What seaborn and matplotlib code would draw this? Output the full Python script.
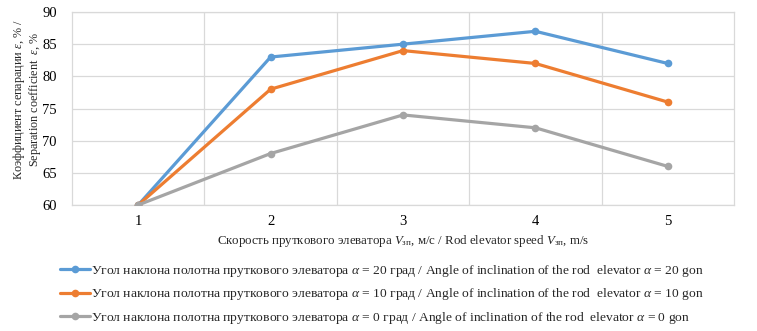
import matplotlib
matplotlib.use("Agg")
import matplotlib.pyplot as plt
import seaborn as sns
import pandas as pd
from matplotlib.lines import Line2D
from matplotlib.ticker import FixedLocator

speeds = [1, 2, 3, 4, 5]
alpha20 = [60, 83, 85, 87, 82]
alpha10 = [60, 78, 84, 82, 76]
alpha0 = [60, 68, 74, 72, 66]
labels = [
    "Угол наклона полотна пруткового элеватора $\\mathit{α}$ = 20 град / Angle of inclination of the rod  elevator $\\mathit{α}$ = 20 gon",
    "Угол наклона полотна пруткового элеватора $\\mathit{α}$ = 10 град / Angle of inclination of the rod  elevator $\\mathit{α}$ = 10 gon",
    "Угол наклона полотна пруткового элеватора $\\mathit{α}$ = 0 град / Angle of inclination of the rod  elevator $\\mathit{α}$ = 0 gon",
]
colors = ["#5B9BD5", "#ED7D31", "#A5A5A5"]

sns.set_theme(style="white")
plt.rcParams["font.family"] = ["Liberation Serif", "DejaVu Serif"]
plt.rcParams["mathtext.fontset"] = "custom"
plt.rcParams["mathtext.rm"] = "Liberation Serif"
plt.rcParams["mathtext.it"] = "Liberation Serif:italic"
plt.rcParams["mathtext.bf"] = "Liberation Serif:bold"

df = pd.DataFrame({
    "speed": speeds * 3,
    "value": alpha20 + alpha10 + alpha0,
    "series": [labels[0]] * 5 + [labels[1]] * 5 + [labels[2]] * 5,
})

fig = plt.figure(figsize=(7.57, 3.31), dpi=100)
ax = fig.add_axes([72 / 757, 1 - 205 / 331, (734 - 72) / 757, (205 - 12) / 331])

sns.lineplot(data=df, x="speed", y="value", hue="series", hue_order=labels,
             palette=colors, marker="o", markersize=5.5, markeredgewidth=0,
             linewidth=2.3, ax=ax, legend=False, zorder=3)

ax.set_xlim(0.5, 5.5)
ax.set_ylim(60, 90)
ax.set_yticks([60, 65, 70, 75, 80, 85, 90])
ax.set_xticks(speeds)
ax.xaxis.set_minor_locator(FixedLocator([1.5, 2.5, 3.5, 4.5]))
ax.grid(True, axis="y", color="#D9D9D9", linewidth=0.9)
ax.grid(True, axis="x", which="minor", color="#D9D9D9", linewidth=0.9)
ax.grid(False, axis="x", which="major")
for s in ax.spines.values():
    s.set_color("#D9D9D9")
    s.set_linewidth(0.9)
ax.tick_params(axis="both", which="both", length=0, labelsize=10.5, colors="#000000")
ax.tick_params(axis="x", pad=7)
ax.tick_params(axis="y", pad=11)

ax.set_xlabel("Скорость пруткового элеватора $\\mathit{V}_{\\mathrm{зп}}$, м/с / Rod elevator speed $\\mathit{V}_{\\mathrm{зп}}$, m/s",
              fontsize=9.3, labelpad=4)
ax.set_ylabel("Коэффициент сепарации $\\mathit{ε}$, % /\nSeparation coefficient  $\\mathit{ε}$, %",
              fontsize=8.7, linespacing=1.0)
ax.yaxis.set_label_coords(-0.044, 0.545)

handles = [Line2D([], [], color=c, linewidth=2.3, marker="o", markersize=5.5, markeredgewidth=0) for c in colors]
fig.legend(handles, labels, loc="upper left", bbox_to_anchor=(60 / 757, 1 - 263 / 331),
           frameon=False, fontsize=9.7, handlelength=2.2, handletextpad=0.1,
           labelspacing=0.55, borderaxespad=0, borderpad=0)

fig.savefig("out.png", dpi=100)
